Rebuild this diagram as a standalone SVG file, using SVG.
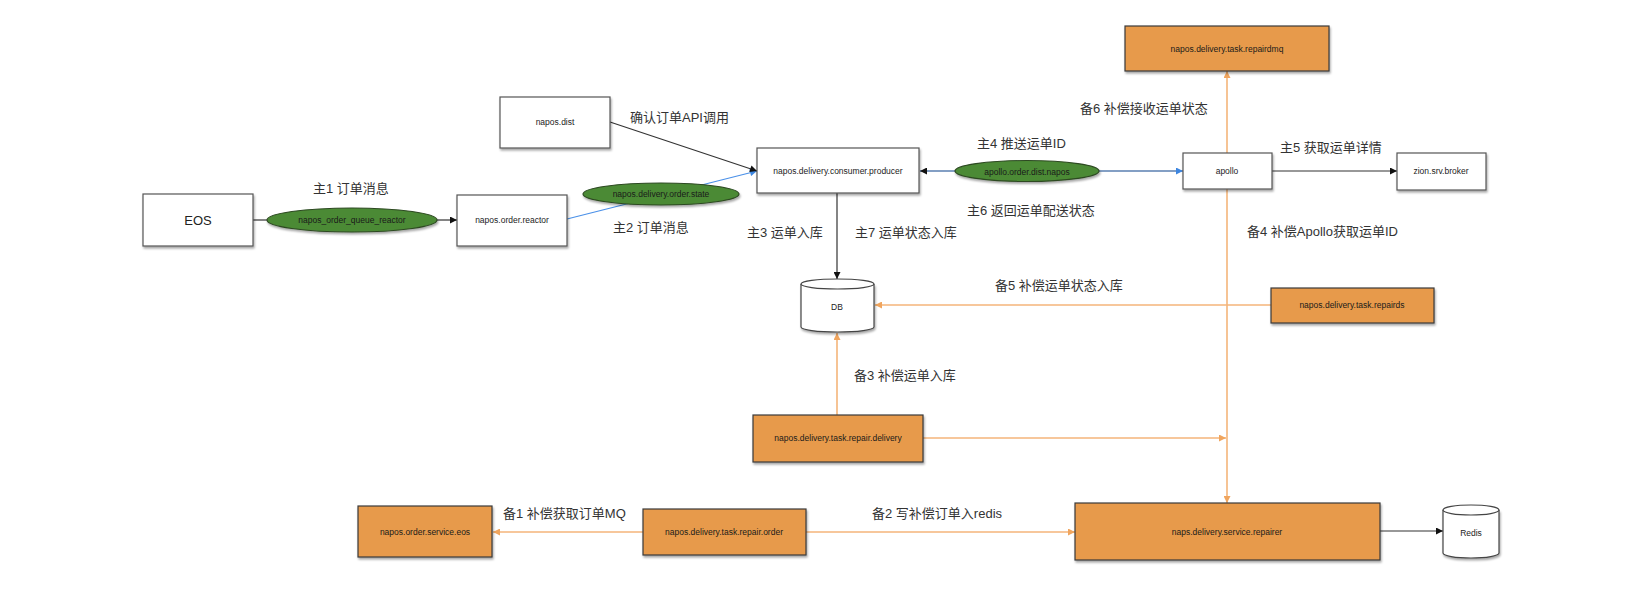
<svg xmlns="http://www.w3.org/2000/svg" width="1648" height="590" viewBox="0 0 1648 590">
<defs>
<filter id="sh" x="-10%" y="-10%" width="130%" height="140%"><feDropShadow dx="1" dy="2" stdDeviation="1.2" flood-color="#000" flood-opacity="0.35"/></filter>
<marker id="ab" viewBox="0 0 10 10" refX="10" refY="5" markerWidth="9" markerHeight="7" markerUnits="userSpaceOnUse" orient="auto"><path d="M0,0 L10,5 L0,10 z" fill="#111"/></marker>
<marker id="au" viewBox="0 0 10 10" refX="10" refY="5" markerWidth="9" markerHeight="7" markerUnits="userSpaceOnUse" orient="auto"><path d="M0,0 L10,5 L0,10 z" fill="#3d86e0"/></marker>
<marker id="ao" viewBox="0 0 10 10" refX="10" refY="5" markerWidth="9" markerHeight="7" markerUnits="userSpaceOnUse" orient="auto"><path d="M0,0 L10,5 L0,10 z" fill="#f0a55e"/></marker>
</defs>
<style>
.w{fill:#fff;stroke:#555;stroke-width:1.2;filter:url(#sh)}
.o{fill:#e79a4b;stroke:#3a3a3a;stroke-width:1.2;filter:url(#sh)}
.g{fill:#4b8a34;stroke:#2d4a22;stroke-width:1.2;filter:url(#sh)}
.cy{fill:#fff;stroke:#444;stroke-width:1.2}
.t{font-family:"Liberation Sans",Arial,sans-serif;font-size:8.5px;fill:#222;text-anchor:middle;dominant-baseline:central}
.tg{font-family:"Liberation Sans",Arial,sans-serif;font-size:8.5px;fill:#1a1a1a;text-anchor:middle;dominant-baseline:central}
.l{font-family:"Liberation Sans","Noto Sans CJK SC",sans-serif;font-size:13px;fill:#333;dominant-baseline:central}
.k{stroke:#333;stroke-width:1.2;fill:none}
.bl{stroke:#4a90e8;stroke-width:1.2;fill:none}
.bs{stroke:#5a7fb0;stroke-width:1.5;fill:none}
.or{stroke:#f4b57a;stroke-width:1.6;fill:none}
</style>
<g id="connectors">
<line class="k" x1="253" y1="220" x2="267" y2="220"/>
<line class="k" x1="437" y1="220" x2="457" y2="220" marker-end="url(#ab)"/>
<line class="bl" x1="567" y1="219" x2="757" y2="171" marker-end="url(#au)"/>
<line class="k" x1="610" y1="122" x2="757" y2="171" marker-end="url(#ab)"/>
<line class="bs" x1="956" y1="171" x2="920" y2="171" marker-end="url(#ab)"/>
<line class="bs" x1="1099" y1="171" x2="1183" y2="171" marker-end="url(#au)"/>
<line class="k" x1="1272" y1="171" x2="1397" y2="171" marker-end="url(#ab)"/>
<line class="or" x1="1227" y1="153" x2="1227" y2="71" marker-end="url(#ao)"/>
<line class="or" x1="1227" y1="189" x2="1227" y2="503" marker-end="url(#ao)"/>
<line class="k" x1="837" y1="193" x2="837" y2="279" marker-end="url(#ab)"/>
<line class="or" x1="1271" y1="305" x2="875" y2="305" marker-end="url(#ao)"/>
<line class="or" x1="837" y1="415" x2="837" y2="333" marker-end="url(#ao)"/>
<line class="or" x1="923" y1="438" x2="1226" y2="438" marker-end="url(#ao)"/>
<line class="or" x1="643" y1="532" x2="493" y2="532" marker-end="url(#ao)"/>
<line class="or" x1="806" y1="532" x2="1075" y2="532" marker-end="url(#ao)"/>
<line class="k" x1="1380" y1="531" x2="1443" y2="531" marker-end="url(#ab)"/>
</g>
<g id="labels">
<text class="l" x="313" y="188">主1 订单消息</text>
<text class="l" x="630" y="117">确认订单API调用</text>
<text class="l" x="613" y="227">主2 订单消息</text>
<text class="l" x="747" y="232">主3 运单入库</text>
<text class="l" x="855" y="232">主7 运单状态入库</text>
<text class="l" x="977" y="143">主4 推送运单ID</text>
<text class="l" x="967" y="210">主6 返回运单配送状态</text>
<text class="l" x="1080" y="108">备6 补偿接收运单状态</text>
<text class="l" x="1280" y="147">主5 获取运单详情</text>
<text class="l" x="1247" y="231">备4 补偿Apollo获取运单ID</text>
<text class="l" x="995" y="285">备5 补偿运单状态入库</text>
<text class="l" x="854" y="375">备3 补偿运单入库</text>
<text class="l" x="503" y="513">备1 补偿获取订单MQ</text>
<text class="l" x="872" y="513">备2 写补偿订单入redis</text>
</g>
<g id="eos"><rect class="w" x="143" y="194" width="110" height="52"/><text class="t" x="198" y="220" style="font-size:13px">EOS</text></g>
<g id="q1"><ellipse class="g" cx="352" cy="220" rx="85" ry="12"/><text class="tg" x="352" y="220">napos_order_queue_reactor</text></g>
<g id="reactor"><rect class="w" x="457" y="195" width="110" height="51"/><text class="t" x="512" y="220">napos.order.reactor</text></g>
<g id="dist"><rect class="w" x="500" y="97" width="110" height="51"/><text class="t" x="555" y="122">napos.dist</text></g>
<g id="q2"><ellipse class="g" cx="661" cy="194" rx="78" ry="11"/><text class="tg" x="661" y="194">napos.delivery.order.state</text></g>
<g id="producer"><rect class="w" x="757" y="148" width="162" height="45"/><text class="t" x="838" y="171">napos.delivery.consumer.producer</text></g>
<g id="q3"><ellipse class="g" cx="1027" cy="171" rx="72" ry="10.5"/><text class="tg" x="1027" y="172">apollo.order.dist.napos</text></g>
<g id="apollo"><rect class="w" x="1183" y="153" width="89" height="36"/><text class="t" x="1227" y="171">apollo</text></g>
<g id="zion"><rect class="w" x="1397" y="153" width="89" height="37"/><text class="t" x="1441" y="171">zion.srv.broker</text></g>
<g id="repairdmq"><rect class="o" x="1125" y="26" width="204" height="45"/><text class="tg" x="1227" y="49">napos.delivery.task.repairdmq</text></g>
<g id="db"><path class="cy" d="M801,284 L801,327 A36.5,5 0 0 0 874,327 L874,284" filter="url(#sh)"/><ellipse class="cy" cx="837.5" cy="284" rx="36.5" ry="5"/><text class="t" x="837" y="307">DB</text></g>
<g id="repairds"><rect class="o" x="1271" y="288" width="163" height="35"/><text class="tg" x="1352" y="305">napos.delivery.task.repairds</text></g>
<g id="repairdelivery"><rect class="o" x="753" y="415" width="170" height="47"/><text class="tg" x="838" y="438">napos.delivery.task.repair.delivery</text></g>
<g id="ordereos"><rect class="o" x="358" y="506" width="134" height="51"/><text class="tg" x="425" y="532">napos.order.service.eos</text></g>
<g id="repairorder"><rect class="o" x="643" y="509" width="163" height="46"/><text class="tg" x="724" y="532">napos.delivery.task.repair.order</text></g>
<g id="repairer"><rect class="o" x="1075" y="503" width="305" height="57"/><text class="tg" x="1227" y="532">naps.delivery.service.repairer</text></g>
<g id="redis"><path class="cy" d="M1443,510 L1443,553 A28,5 0 0 0 1499,553 L1499,510" filter="url(#sh)"/><ellipse class="cy" cx="1471" cy="510" rx="28" ry="5"/><text class="t" x="1471" y="533">Redis</text></g>
</svg>
